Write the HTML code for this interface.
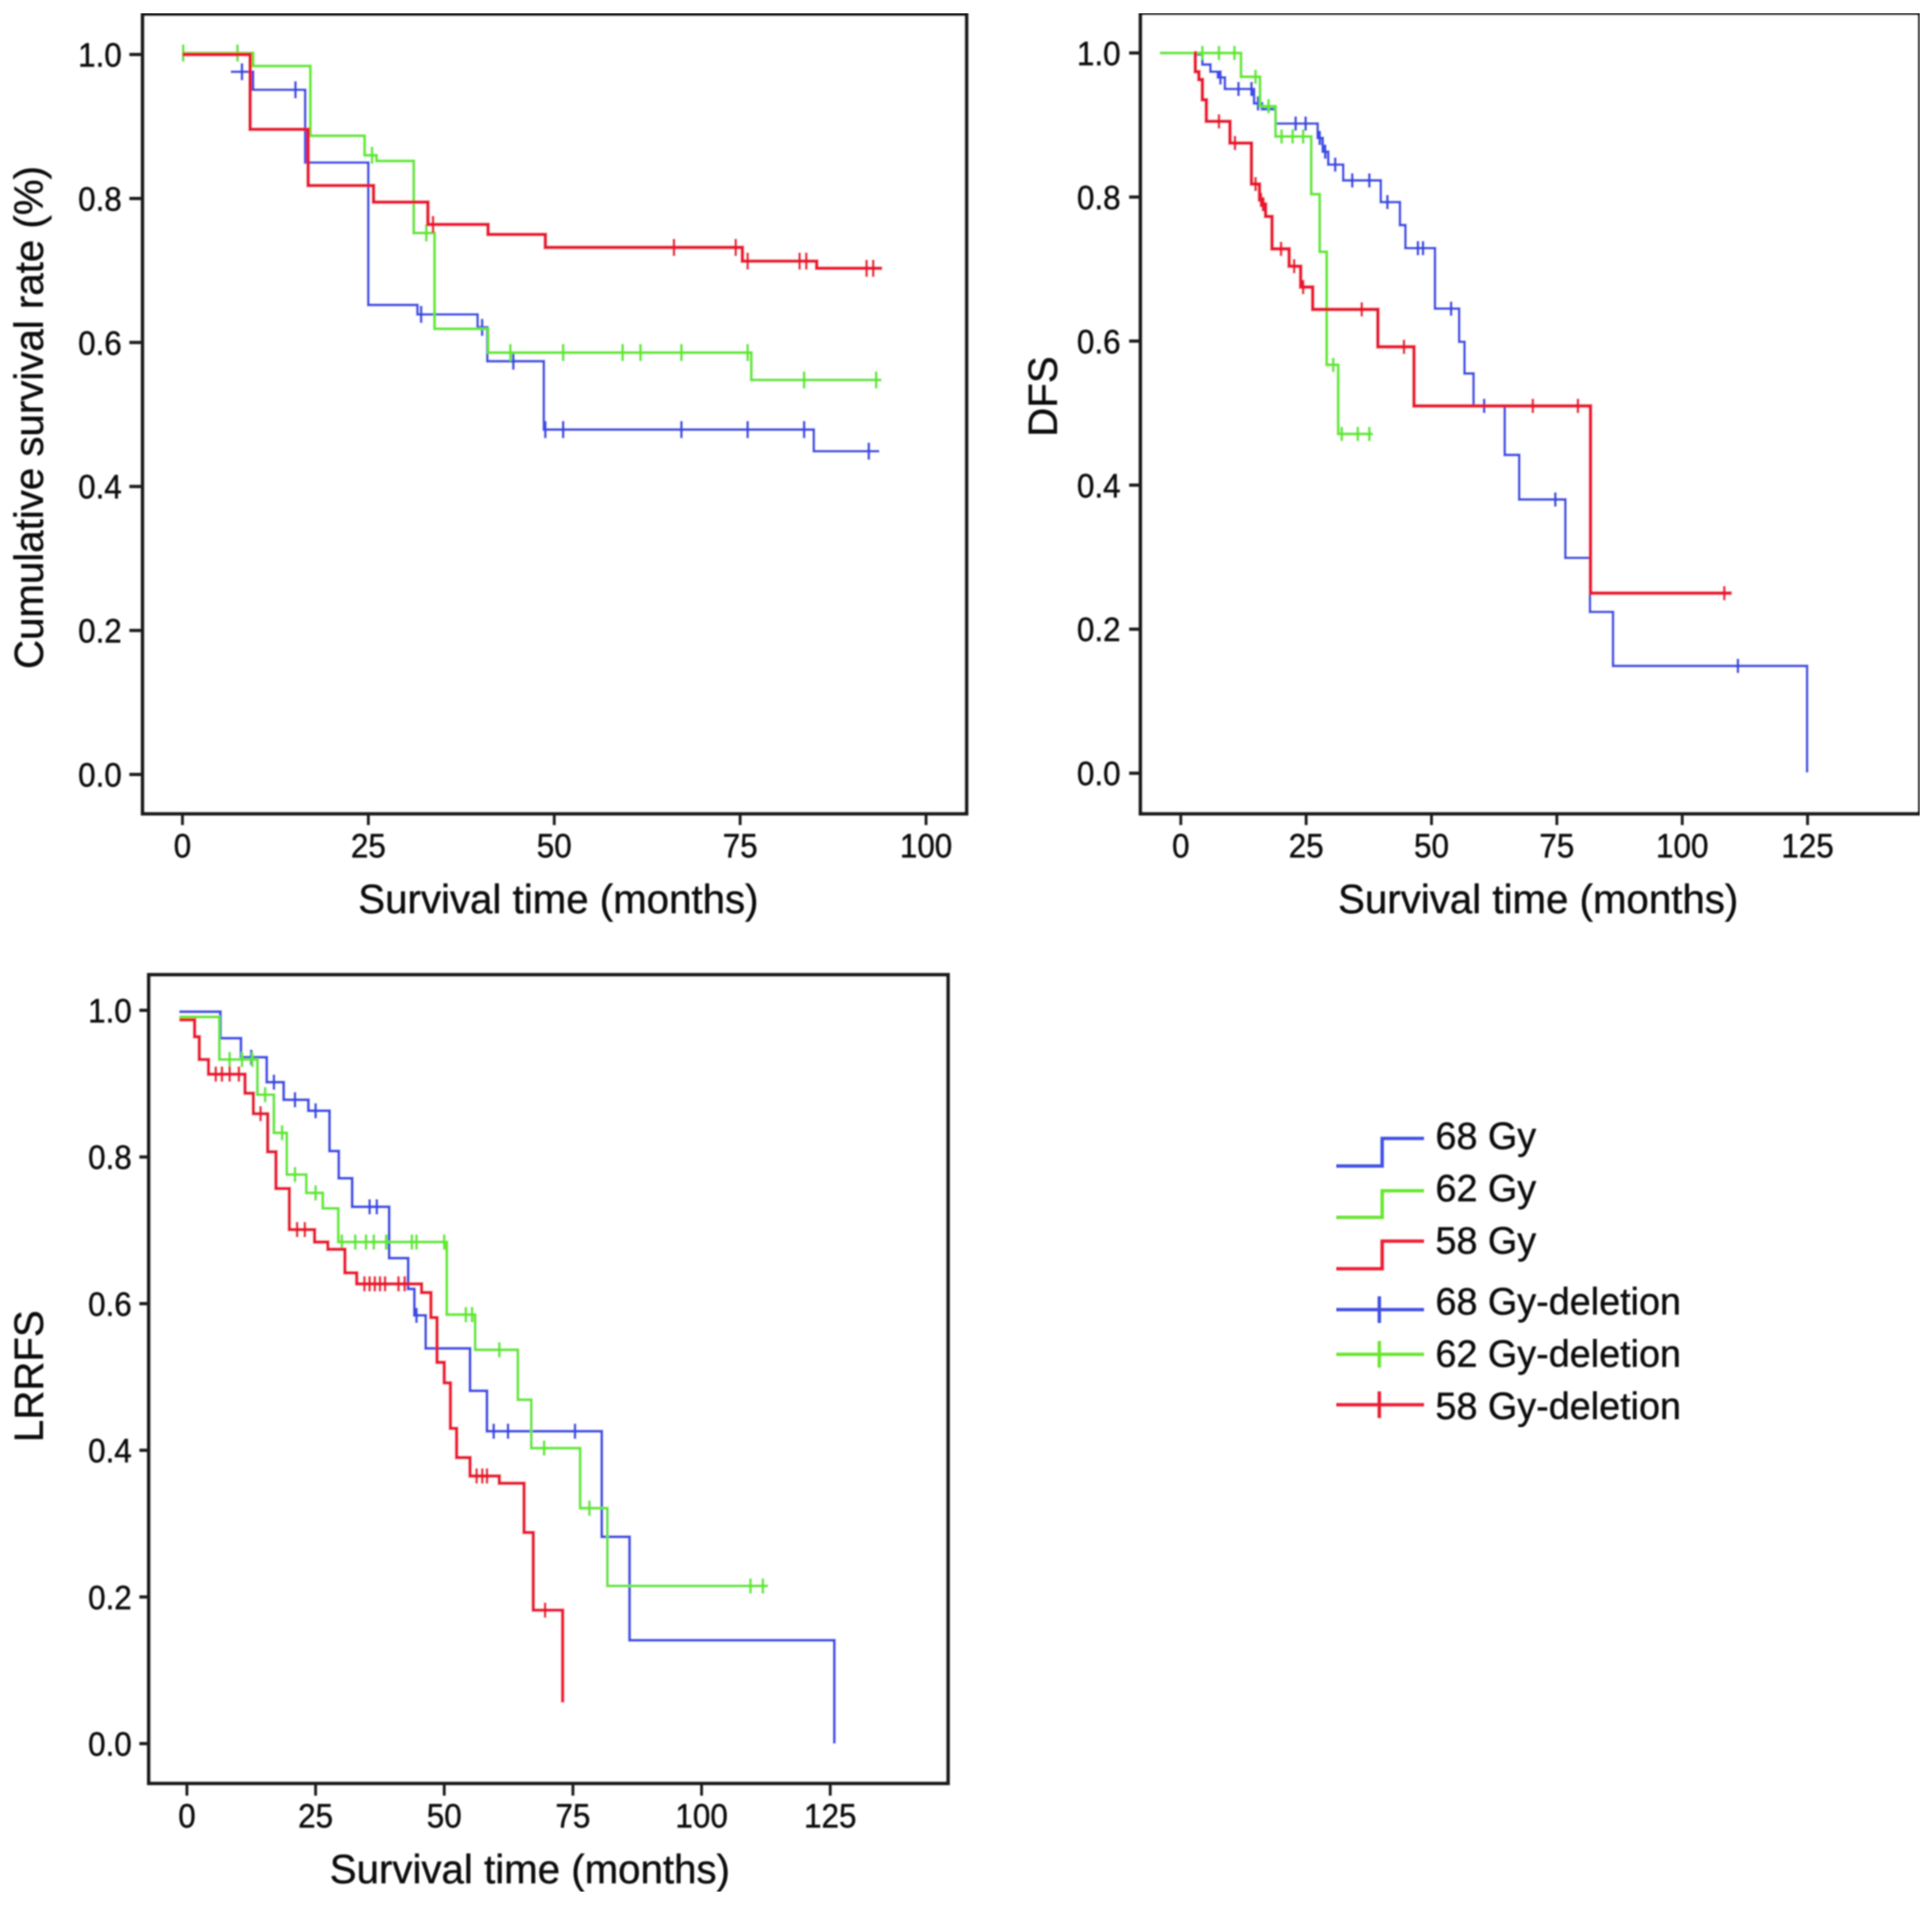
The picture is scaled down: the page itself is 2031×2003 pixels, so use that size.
<!DOCTYPE html>
<html lang="en">
<head>
<meta charset="utf-8">
<title>Survival curves by radiation dose</title>
<style>
html,body{margin:0;padding:0;background:#fff;}
svg{display:block;}
text{font-family:"Liberation Sans",Arial,sans-serif;fill:#111;stroke:#111;stroke-width:0.45px;}
</style>
</head>
<body>
<svg id="chart" xmlns="http://www.w3.org/2000/svg" width="2031" height="2003" viewBox="0 0 2031 2003">
  <rect x="0" y="0" width="2031" height="2003" fill="#ffffff"/>
  <g id="panels" filter="url(#soften)"></g>
  <defs><filter id="soften" x="0" y="0" width="100%" height="100%"><feGaussianBlur stdDeviation="0.7"/></filter></defs>
  <g filter="url(#soften)" font-size="39.7">
    <g>
      <path d="M1404.5 1226H1453V1197H1497" fill="none" stroke="#3f50e2" stroke-width="3.6"/>
      <text x="1509" y="1208">68 Gy</text>
    </g>
    <g>
      <path d="M1404.5 1280H1453V1252H1497" fill="none" stroke="#66e62e" stroke-width="3.6"/>
      <text x="1509" y="1263">62 Gy</text>
    </g>
    <g>
      <path d="M1404.5 1334H1453V1305H1497" fill="none" stroke="#ec1c30" stroke-width="3.6"/>
      <text x="1509" y="1318">58 Gy</text>
    </g>
    <g>
      <path d="M1404.5 1377H1497M1450 1363V1391" fill="none" stroke="#3f50e2" stroke-width="3.6"/>
      <text x="1509" y="1382">68 Gy-deletion</text>
    </g>
    <g>
      <path d="M1404.5 1424H1497M1450 1410V1438" fill="none" stroke="#66e62e" stroke-width="3.6"/>
      <text x="1509" y="1437">62 Gy-deletion</text>
    </g>
    <g>
      <path d="M1404.5 1477H1497M1450 1463V1491" fill="none" stroke="#ec1c30" stroke-width="3.6"/>
      <text x="1509" y="1492">58 Gy-deletion</text>
    </g>
  </g>
</svg>
<script>
// ---------- Data: axis ticks ----------
const yTickLabels = ['0.0', '0.2', '0.4', '0.6', '0.8', '1.0'];
const osXTicks = [0, 25, 50, 75, 100];
const dfsXTicks = [0, 25, 50, 75, 100, 125];
const lrrfsXTicks = [0, 25, 50, 75, 100, 125];

// ---------- Data: overall survival ----------
const osBlueMonths = [6.5, 9.5, 16.5, 25, 31.6, 39.7, 41, 48.6, 84.9, 93.7];
const osBlueValues = [.976, .951, .85, .652, .639, .621, .574, .479, .449, .449];
const osBlueCensorMonths = [8, 15.2, 32.1, 40.3, 44.5, 48.8, 51.2, 67.1, 76, 83.6, 92.3];
const osBlueCensorValues = [.976, .951, .639, .621, .574, .479, .479, .479, .479, .479, .449];
const osGreenMonths = [0, 9.5, 17.2, 24.5, 26.1, 31.1, 33.9, 41.1, 76.5, 94];
const osGreenValues = [1.002, .984, .887, .86, .852, .752, .619, .586, .548, .548];
const osGreenCensorMonths = [0.1, 7.4, 25.5, 32.8, 44.1, 51.2, 59.2, 61.6, 67.1, 76, 83.6, 93.3];
const osGreenCensorValues = [1.002, 1.002, .86, .752, .586, .586, .586, .586, .586, .586, .548, .548];
const osRedMonths = [0, 9.1, 16.9, 25.7, 33, 41.1, 48.8, 75.3, 85.3, 94.1];
const osRedValues = [1, .896, .818, .795, .764, .75, .732, .713, .703, .703];
const osRedCensorMonths = [33.7, 66.1, 74.4, 76, 83, 83.9, 92, 92.9];
const osRedCensorValues = [.764, .732, .732, .713, .713, .713, .703, .703];

// ---------- Data: DFS ----------
const dfsBlueMonths = [2.8, 4.3, 5.9, 7.4, 8.8, 14.6, 16.2, 18.9, 27.3, 28.3, 29.4, 32.4, 39.9, 43.7, 44.8, 50.7, 55.5, 56.6, 58.4, 64.6, 67.5, 76.7, 81.6, 86.2, 124.9];
const dfsBlueValues = [.998, .984, .974, .966, .95, .93, .922, .902, .882, .863, .845, .823, .793, .761, .729, .645, .599, .555, .51, .442, .38, .299, .224, .149, .001];
const dfsBlueCensorMonths = [7.9, 11.5, 14.1, 15.4, 22.9, 24.9, 27.7, 28.8, 30.8, 34.2, 37.6, 41.2, 47.3, 48.3, 53.9, 60.5, 74.7, 111.1];
const dfsBlueCensorValues = [.966, .95, .95, .93, .902, .902, .882, .863, .845, .823, .823, .793, .729, .729, .645, .51, .38, .149];
const dfsGreenMonths = [-4.2, 12, 15.8, 18.9, 26, 27.7, 29.1, 31.4, 38.3];
const dfsGreenValues = [1, .967, .926, .884, .804, .724, .567, .471, .471];
const dfsGreenCensorMonths = [4.3, 7.6, 10.7, 14.9, 17.5, 20.1, 22.3, 24.4, 30.4, 32.1, 35.3, 37.6];
const dfsGreenCensorValues = [1, 1, 1, .967, .926, .884, .884, .884, .567, .471, .471, .471];
const dfsRedMonths = [2.6, 2.9, 3.6, 4.3, 5.1, 9.8, 14.1, 15.7, 16.4, 16.9, 18.2, 21.6, 23.9, 26.3, 39.3, 46.5, 81.7, 109.9];
const dfsRedValues = [1, .974, .963, .935, .905, .875, .818, .796, .79, .773, .728, .704, .675, .644, .592, .51, .25, .25];
const dfsRedCensorMonths = [7.6, 10.8, 14.9, 16, 16.4, 20, 22.6, 24.4, 36.1, 44.5, 70.2, 79.2, 108.4];
const dfsRedCensorValues = [.905, .875, .818, .796, .79, .728, .704, .675, .644, .592, .51, .51, .25];

// ---------- Data: LRRFS ----------
const lrrfsBlueMonths = [-1.5, 6.5, 10.5, 15.5, 18.8, 23.6, 27.7, 29.5, 32.1, 39.3, 43, 44.2, 46.4, 55, 58.3, 80.6, 86, 125.8];
const lrrfsBlueValues = [.998, .962, .936, .902, .878, .863, .808, .771, .732, .662, .62, .584, .539, .481, .426, .282, .141, 0];
const lrrfsBlueCensorMonths = [12.5, 16.9, 21, 25, 35.5, 36.9, 44.6, 59.6, 62.4, 75.4];
const lrrfsBlueCensorValues = [.936, .902, .878, .863, .732, .732, .584, .426, .426, .426];
const lrrfsGreenMonths = [-1.5, 6.3, 13.7, 16.9, 19.4, 23.2, 26.4, 29.4, 50.5, 56, 64.3, 66.9, 76.4, 81.7, 112.9];
const lrrfsGreenValues = [.991, .933, .885, .833, .776, .751, .73, .684, .585, .537, .469, .403, .321, .215, .215];
const lrrfsGreenCensorMonths = [8.3, 10.7, 12.7, 15.2, 18.5, 21, 25, 30.1, 32.7, 34.8, 36.3, 38.7, 43.7, 44.6, 50, 54.2, 55.4, 60.7, 69.4, 78.2, 109.5, 111.9];
const lrrfsGreenCensorValues = [.933, .933, .933, .885, .833, .776, .751, .684, .684, .684, .684, .684, .684, .684, .684, .585, .585, .537, .403, .321, .215, .215];
const lrrfsRedMonths = [-1.5, 1.5, 2.4, 4.2, 11.3, 12.9, 15.7, 17.3, 19.9, 24.8, 27.4, 30.7, 33, 45.6, 47.4, 48.6, 50, 51.2, 52.4, 55, 60.7, 65.5, 67.3, 73];
const lrrfsRedValues = [.987, .964, .933, .913, .887, .859, .807, .757, .701, .684, .674, .642, .627, .615, .581, .52, .492, .43, .39, .365, .355, .288, .182, .056];
const lrrfsRedCensorMonths = [5.6, 6.8, 8.3, 10.1, 14.3, 21.4, 22.9, 34.5, 35.5, 36.5, 37.5, 38.5, 41.1, 42.3, 56.3, 57.4, 58.3, 69.6];
const lrrfsRedCensorValues = [.913, .913, .913, .913, .859, .701, .701, .627, .627, .627, .627, .627, .627, .627, .365, .365, .365, .182];

// ---------- Layout ----------
const NS = 'http://www.w3.org/2000/svg';
const BLUE = '#3a4be4', GREEN = '#62e82a', RED = '#ea1432';

const panels = [
  { id: 'os', frame: [150, 15, 1016, 855.5], x0: 191.8, x1: 973.5, xMax: 100, y0: 814.3, y1: 57.3,
    xTicks: osXTicks, yTitle: 'Cumulative survival rate (%)', yTitleX: 45, yTitleY: 439, censorHalf: 9,
    xTitleX: 587, xTitleY: 960, xLabelY: 901.5, yLabelX: 128, yTickLen: 14, xTickLen: 12,
    series: [
      { name: '68-gy', color: BLUE, w: 2.8, m: osBlueMonths, v: osBlueValues, cm: osBlueCensorMonths, cv: osBlueCensorValues },
      { name: '62-gy', color: GREEN, w: 3, m: osGreenMonths, v: osGreenValues, cm: osGreenCensorMonths, cv: osGreenCensorValues },
      { name: '58-gy', color: RED, w: 3.8, m: osRedMonths, v: osRedValues, cm: osRedCensorMonths, cv: osRedCensorValues }
    ] },
  { id: 'dfs', frame: [1199, 14, 2018, 855.5], x0: 1241.3, x1: 1900.2, xMax: 125, y0: 813, y1: 55.7,
    xTicks: dfsXTicks, yTitle: 'DFS', yTitleX: 1111, yTitleY: 417, censorHalf: 7.5,
    xTitleX: 1617, xTitleY: 960, xLabelY: 901.5, yLabelX: 1178, yTickLen: 12, xTickLen: 12,
    series: [
      { name: '68-gy', color: BLUE, w: 2.8, m: dfsBlueMonths, v: dfsBlueValues, cm: dfsBlueCensorMonths, cv: dfsBlueCensorValues },
      { name: '62-gy', color: GREEN, w: 3, m: dfsGreenMonths, v: dfsGreenValues, cm: dfsGreenCensorMonths, cv: dfsGreenCensorValues },
      { name: '58-gy', color: RED, w: 3.8, m: dfsRedMonths, v: dfsRedValues, cm: dfsRedCensorMonths, cv: dfsRedCensorValues }
    ] },
  { id: 'lrrfs', frame: [156.5, 1025, 996.5, 1875], x0: 196.5, x1: 872.8, xMax: 125, y0: 1833.3, y1: 1062.3,
    xTicks: lrrfsXTicks, yTitle: 'LRRFS', yTitleX: 45, yTitleY: 1447, censorHalf: 8,
    xTitleX: 557, xTitleY: 1980, xLabelY: 1921.5, yLabelX: 138.5, yTickLen: 10, xTickLen: 13,
    series: [
      { name: '68-gy', color: BLUE, w: 3, m: lrrfsBlueMonths, v: lrrfsBlueValues, cm: lrrfsBlueCensorMonths, cv: lrrfsBlueCensorValues },
      { name: '62-gy', color: GREEN, w: 3, m: lrrfsGreenMonths, v: lrrfsGreenValues, cm: lrrfsGreenCensorMonths, cv: lrrfsGreenCensorValues },
      { name: '58-gy', color: RED, w: 3.6, m: lrrfsRedMonths, v: lrrfsRedValues, cm: lrrfsRedCensorMonths, cv: lrrfsRedCensorValues }
    ] }
];

function make(parent, tag, attrs, txt) {
  const node = document.createElementNS(NS, tag);
  Object.keys(attrs).forEach(function (k) { node.setAttribute(k, attrs[k]); });
  if (txt !== undefined) node.textContent = txt;
  parent.appendChild(node);
  return node;
}

const root = document.getElementById('panels');

panels.forEach(function (p) {
  const xScale = function (m) { return p.x0 + (m / p.xMax) * (p.x1 - p.x0); };
  const yScale = function (v) { return p.y0 + v * (p.y1 - p.y0); };

  const g = make(root, 'g', {});
  
  

  const f = p.frame;
  const frame = make(g, 'rect', { x: f[0], y: f[1], width: f[2] - f[0], height: f[3] - f[1], fill: '#fff', stroke: '#1c1c1c', 'stroke-width': 4 });
  
  

  yTickLabels.forEach(function (lab) {
    const y = yScale(parseFloat(lab));
    const tick = make(g, 'line', { x1: f[0] - p.yTickLen, x2: f[0], y1: y, y2: y, stroke: '#1c1c1c', 'stroke-width': 3.4 });
    
    
    const t = make(g, 'text', { 'text-anchor': 'end', 'font-size': 33, transform: 'translate(' + p.yLabelX + ' ' + (y + 12.7) + ') scale(1 1.08)' }, lab);
    
    
  });

  p.xTicks.forEach(function (val) {
    const x = xScale(val);
    const tick = make(g, 'line', { x1: x, x2: x, y1: f[3], y2: f[3] + p.xTickLen, stroke: '#1c1c1c', 'stroke-width': 3 });
    
    
    const t = make(g, 'text', { 'text-anchor': 'middle', 'font-size': 33, transform: 'translate(' + x + ' ' + p.xLabelY + ') scale(1 1.08)' }, String(val));
    
    
  });

  const xt = make(g, 'text', { x: p.xTitleX, y: p.xTitleY, 'text-anchor': 'middle', 'font-size': 42.3 }, 'Survival time (months)');
  
  

  const yt = make(g, 'text', { x: 0, y: 0, 'text-anchor': 'middle', 'font-size': 42.3, transform: 'translate(' + p.yTitleX + ' ' + p.yTitleY + ') rotate(-90)' }, p.yTitle);
  
  

  p.series.forEach(function (s) {
    const sg = make(g, 'g', {});
    
    

    let d = 'M' + xScale(s.m[0]).toFixed(1) + ' ' + yScale(s.v[0]).toFixed(1);
    for (let i = 1; i < s.m.length; i++) {
      d += 'H' + xScale(s.m[i]).toFixed(1) + 'V' + yScale(s.v[i]).toFixed(1);
    }
    const curve = make(sg, 'path', { d: d, fill: 'none', stroke: s.color, 'stroke-width': s.w, 'stroke-linejoin': 'miter' });
    
    

    s.cm.forEach(function (m, i) {
      const cx = xScale(m), cy = yScale(s.cv[i]);
      const mark = make(sg, 'line', { x1: cx, x2: cx, y1: cy - p.censorHalf, y2: cy + p.censorHalf, stroke: s.color, 'stroke-width': Math.min(s.w, 2.8) });
      
      
    });
  });
});
</script>
</body>
</html>
